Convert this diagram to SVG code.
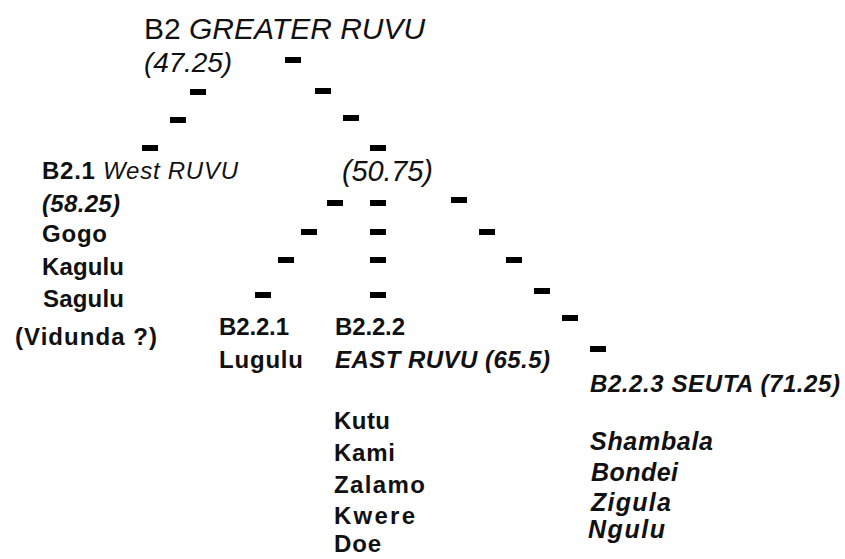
<svg xmlns="http://www.w3.org/2000/svg" width="845" height="559" viewBox="0 0 845 559">
<style>
text{font-family:"Liberation Sans",Arial,sans-serif;fill:#111;}
.t{font-size:30px;}
.n{font-size:24px;font-weight:bold;}
.bi{font-size:24px;font-weight:bold;font-style:italic;}
.s{font-size:25px;font-weight:bold;font-style:italic;}
.i{font-style:italic;}
.r{font-weight:normal;}
.d{fill:#000;}
</style>
<rect width="845" height="559" fill="#fff"/>
<g id="connectors">
<rect class="d" x="285" y="57" width="16" height="6"/>
<rect class="d" x="190" y="89" width="16" height="6"/>
<rect class="d" x="170" y="117" width="16" height="6"/>
<rect class="d" x="142" y="145" width="16" height="6"/>
<rect class="d" x="315" y="88" width="16" height="6"/>
<rect class="d" x="343" y="115" width="16" height="6"/>
<rect class="d" x="370" y="145" width="16" height="6"/>
<rect class="d" x="327" y="200" width="16" height="6"/>
<rect class="d" x="301" y="229" width="16" height="6"/>
<rect class="d" x="278" y="257" width="16" height="6"/>
<rect class="d" x="255" y="292" width="16" height="6"/>
<rect class="d" x="370" y="200" width="16" height="6"/>
<rect class="d" x="370" y="229" width="16" height="6"/>
<rect class="d" x="370" y="257" width="16" height="6"/>
<rect class="d" x="370" y="292" width="16" height="6"/>
<rect class="d" x="451" y="197" width="16" height="6"/>
<rect class="d" x="479" y="229" width="16" height="6"/>
<rect class="d" x="506" y="257" width="16" height="6"/>
<rect class="d" x="534" y="288" width="16" height="6"/>
<rect class="d" x="562" y="315" width="16" height="6"/>
<rect class="d" x="590" y="346" width="16" height="6"/>
</g>
<g id="node-b2">
<text class="t" x="144" y="39">B2 <tspan class="i">GREATER RUVU</tspan></text>
<text class="t i" x="144" y="72" style="font-size:28px" textLength="88">(47.25)</text>
</g>
<g id="node-b21">
<text class="n" x="42" y="179" textLength="196">B2.1 <tspan class="i r">West RUVU</tspan></text>
<text class="bi" x="42" y="212" textLength="78">(58.25)</text>
<text class="n" x="42" y="242" textLength="65">Gogo</text>
<text class="n" x="42" y="275" textLength="82">Kagulu</text>
<text class="n" x="43" y="307" textLength="81">Sagulu</text>
<text class="n" x="15" y="345" textLength="142">(Vidunda ?)</text>
</g>
<g id="node-b22">
<text class="t i" x="342" y="181" style="font-size:29px" textLength="91">(50.75)</text>
</g>
<g id="node-b221">
<text class="n" x="219" y="335" textLength="70">B2.2.1</text>
<text class="n" x="219" y="368" textLength="84">Lugulu</text>
</g>
<g id="node-b222">
<text class="n" x="335" y="335" textLength="70">B2.2.2</text>
<text class="bi" x="335" y="368" textLength="215">EAST RUVU (65.5)</text>
<text class="n" x="334" y="429" textLength="56">Kutu</text>
<text class="n" x="334" y="461" textLength="61">Kami</text>
<text class="n" x="334" y="493" textLength="91">Zalamo</text>
<text class="n" x="334" y="524" textLength="81">Kwere</text>
<text class="n" x="334" y="552" textLength="47">Doe</text>
</g>
<g id="node-b223">
<text class="bi" x="590" y="392" textLength="250">B2.2.3 SEUTA (71.25)</text>
<text class="s" x="590" y="450" textLength="123">Shambala</text>
<text class="s" x="591" y="481" textLength="87">Bondei</text>
<text class="s" x="591" y="511" textLength="80">Zigula</text>
<text class="s" x="588" y="538" textLength="77">Ngulu</text>
</g>
</svg>
